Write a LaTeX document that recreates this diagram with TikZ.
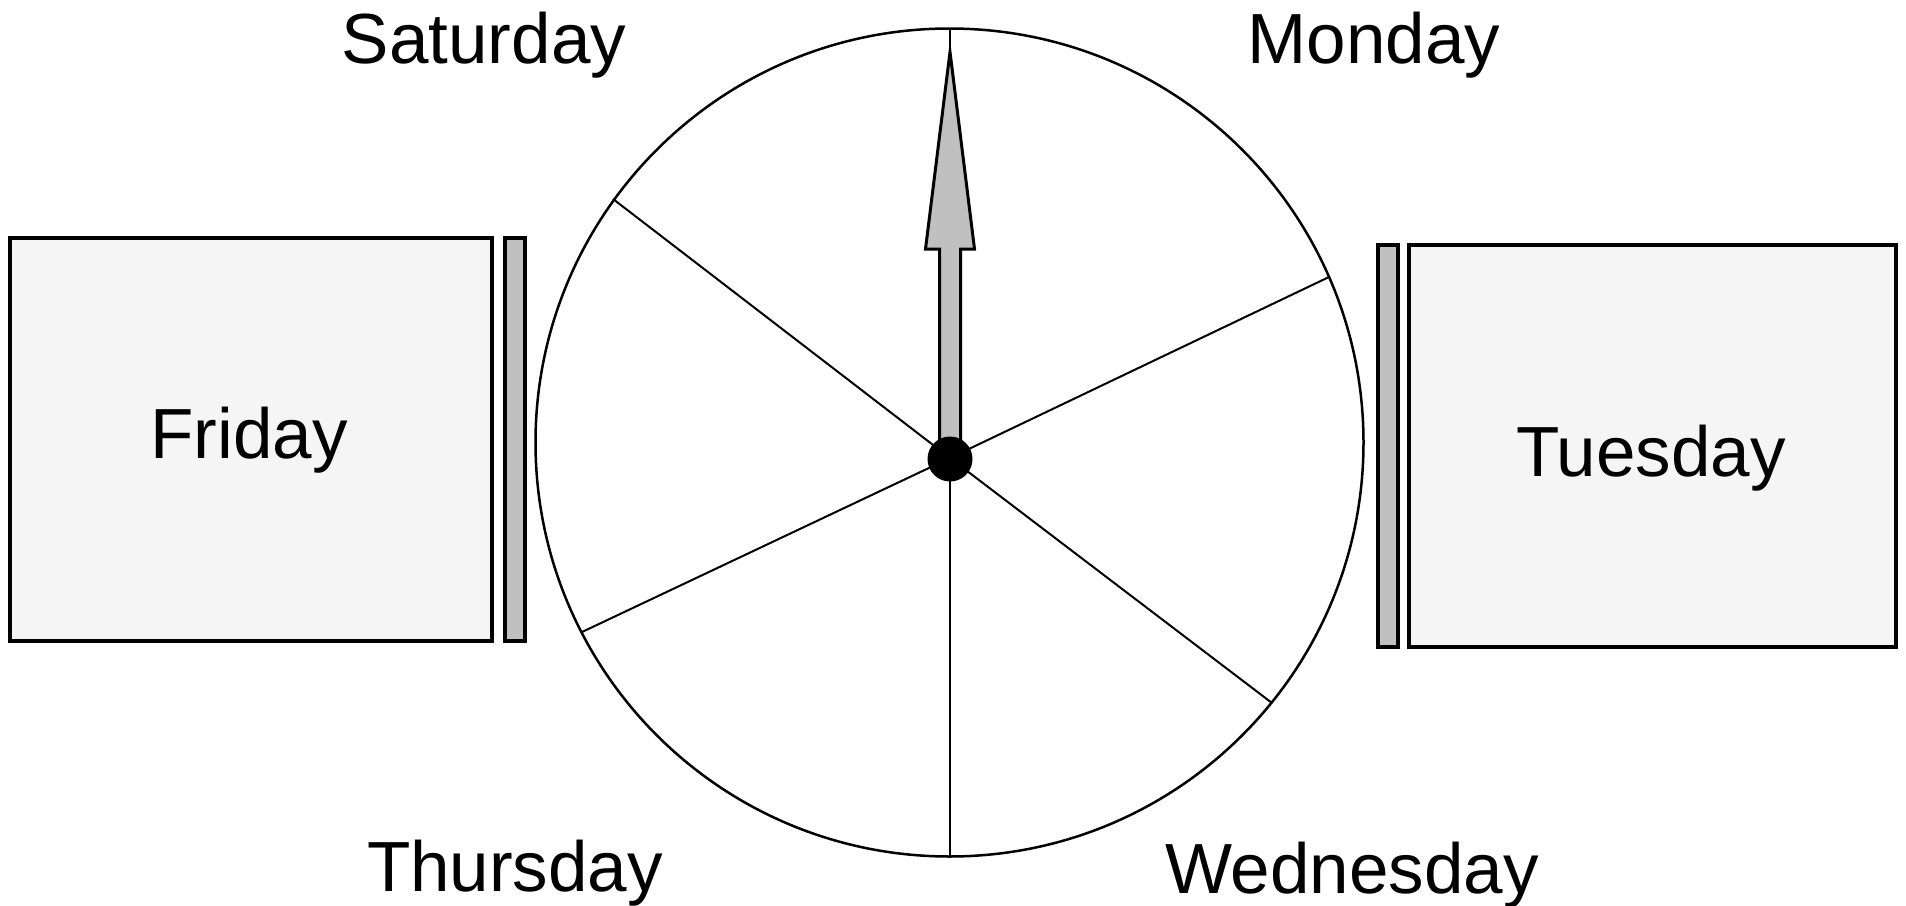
\documentclass[tikz,border=0pt]{standalone}
\usepackage{fontspec}
\setmainfont{Liberation Sans}
\definecolor{bargray}{HTML}{C0C0C0}
\definecolor{boxfill}{HTML}{F5F5F5}
\tikzset{
  daybox/.style={draw=black, line width=4pt, fill=boxfill, inner sep=0pt},
  sidebar/.style={draw=black, line width=4pt, fill=bargray, inner sep=0pt, minimum width=20pt},
  daylabel/.style={font=\fontsize{71}{82}\selectfont, inner sep=0pt, anchor=base},
  spoke/.style={draw=black, line width=2pt},
  hubdot/.style={circle, fill=black, inner sep=0pt, minimum size=45pt},
  pointer/.style={draw=black, line width=3pt, fill=bargray, line join=miter}
}
\begin{document}
\begin{tikzpicture}[x=1pt,y=-1pt]
\useasboundingbox (0,0) rectangle (1906,905);
% wheel
\coordinate (C) at (949.5,442.5);
\draw[line width=2.5pt] (C) circle[radius=414];
\coordinate (h) at (950,458);
\coordinate (sTop) at (950,28.5);
\coordinate (sBot) at (950,856.5);
\coordinate (sUL) at (613,199);
\coordinate (sUR) at (1329,277);
\coordinate (sLL) at (582,632);
\coordinate (sLR) at (1272,703);
\draw[spoke] (sTop) -- (h);
\draw[spoke] (h) -- (sBot);
\draw[spoke] (h) -- (sUL);
\draw[spoke] (h) -- (sUR);
\draw[spoke] (h) -- (sLL);
\draw[spoke] (h) -- (sLR);
% pointer
\draw[pointer] (939.5,458) -- (939.5,249) -- (925.5,249) -- (950,52) -- (974.5,249) -- (960.5,249) -- (960.5,458) -- cycle;
\node[hubdot] (hub) at (950,459) {};
% boxes
\node[daybox, minimum width=482pt, minimum height=403pt] (fri) at (251,439.5) {};
\node[sidebar, minimum height=403pt] (fribar) at (515,439.5) {};
\node[daybox, minimum width=487pt, minimum height=402pt] (tue) at (1652.5,446) {};
\node[sidebar, minimum height=402pt] (tuebar) at (1387.5,446) {};
% labels
\node[daylabel] (frilabel) at (249,458) {Friday};
\node[daylabel] (tuelabel) at (1651,476) {Tuesday};
\node[daylabel] (satlabel) at (484,63) {Saturday};
\node[daylabel] (monlabel) at (1374,63) {Monday};
\node[daylabel] (thulabel) at (515,891) {Thursday};
\node[daylabel] (wedlabel) at (1352,893) {Wednesday};
\end{tikzpicture}
\end{document}
